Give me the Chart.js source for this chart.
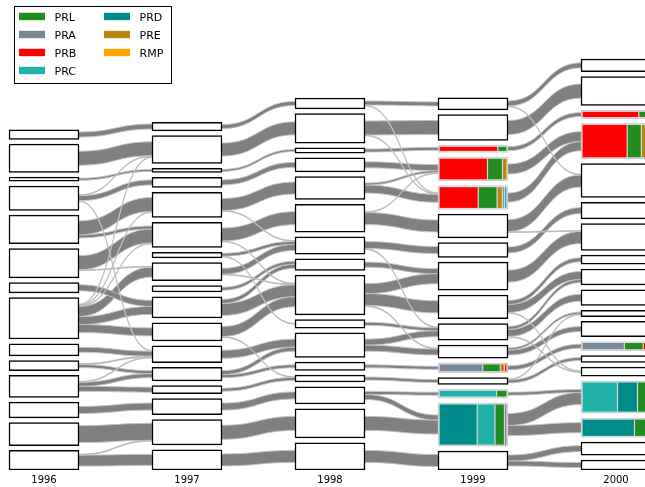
<!DOCTYPE html>
<html>
<head>
<meta charset="utf-8">
<script src="https://cdn.jsdelivr.net/npm/chart.js@4/dist/chart.umd.min.js"></script>
<style>
  html, body { margin: 0; padding: 0; background: #fff; }
</style>
</head>
<body>
<canvas id="myChart" width="645" height="487"></canvas>
<script>
// ---- data ----
const years = [1996, 1997, 1998, 1999, 2000];
const groups = ['PRL', 'PRA', 'PRB', 'PRC', 'PRD', 'PRE', 'RMP'];
const groupColors = ['#228b22', '#778899', '#ff0000', '#20b2aa', '#008b8b', '#b8860b', '#ffa500'];

// cluster sizes per year, listed top to bottom
const sizes1996 = [9.5, 28.3, 4, 24.3, 28.6, 29.3, 10.3, 41.3, 12, 10, 22, 15.6, 23, 19.6];
const sizes1997 = [8.6, 27.8, 4.2, 10.2, 25.2, 25.2, 5.6, 18, 6.5, 21.2, 18.2, 16.8, 13.5, 8, 16.2, 25.5, 20.2];
const sizes1998 = [10.8, 29.5, 5.2, 13.9, 22.9, 27.8, 17.2, 11.5, 39.6, 8.5, 24.5, 8.2, 6.8, 17.2, 29.2, 27.2];
const sizes1999 = [12, 25.7, 7.2, 23.7, 23.7, 23.7, 14.7, 28, 23.7, 16.7, 13.1, 9.8, 7, 8.8, 43.3, 19];
const sizes2000 = [12.7, 29, 8.3, 35.5, 33.8, 16.6, 26.7, 9, 16, 15.7, 6.3, 15.3, 9.3, 6.7, 9, 32.3, 19.4, 13, 10];

// group make-up of the coloured clusters (cluster index -> share per group)
const mix1999 = {
  2: { PRB: 60, PRL: 9 },
  3: { PRB: 48, PRL: 15, PRE: 4 },
  4: { PRB: 37, PRL: 18, PRE: 5, PRA: 2, PRC: 2 },
  11: { PRA: 42, PRL: 17, PRE: 4, PRB: 2 },
  13: { PRC: 57, PRL: 10 },
  14: { PRD: 36, PRC: 17, PRL: 9, PRA: 2 }
};
const mix2000 = {
  2: { PRB: 58, PRL: 11 },
  3: { PRB: 44, PRL: 14, PRE: 5, PRA: 3 },
  12: { PRA: 40, PRL: 18, PRB: 6 },
  15: { PRC: 35, PRD: 20, PRL: 12 },
  16: { PRD: 52, PRL: 12, PRA: 3 }
};

// flows between consecutive years: [from cluster, to cluster, size]
const flows96to97 = [
  [0, 0, 5], [1, 1, 14], [2, 2, 2], [3, 1, 0.8], [3, 3, 5], [3, 11, 0.8],
  [4, 4, 14], [4, 5, 3], [5, 5, 14], [5, 7, 0.8], [6, 9, 6],
  [7, 1, 0.8], [7, 4, 0.8], [7, 5, 0.8], [7, 7, 10], [7, 9, 8], [7, 10, 8],
  [8, 11, 5], [9, 11, 1], [9, 12, 3], [10, 11, 0.8], [10, 12, 4], [10, 13, 5],
  [11, 14, 7], [12, 15, 17], [13, 15, 0.8], [13, 16, 11]
];
const flows97to98 = [
  [0, 0, 4], [1, 1, 13], [2, 2, 2], [3, 3, 5], [4, 4, 12], [4, 6, 0.8],
  [5, 5, 13], [5, 8, 0.8], [6, 6, 3], [6, 9, 0.8], [7, 6, 6], [7, 8, 0.8],
  [8, 7, 3], [9, 7, 4], [9, 8, 12], [10, 8, 10], [10, 12, 0.8],
  [11, 10, 8], [12, 10, 4], [12, 11, 3], [13, 12, 3], [14, 13, 7],
  [15, 14, 14], [16, 15, 12]
];
const flows98to99 = [
  [0, 0, 4], [0, 4, 0.8], [1, 1, 14], [1, 4, 0.8], [2, 2, 3], [3, 3, 6],
  [4, 3, 2], [4, 4, 8], [5, 3, 0.8], [5, 5, 12], [6, 6, 7], [6, 9, 0.8],
  [7, 7, 5], [8, 7, 10], [8, 8, 12], [8, 10, 0.8], [9, 9, 3],
  [10, 9, 6], [10, 10, 6], [11, 11, 3], [12, 12, 3], [13, 13, 3], [13, 14, 5],
  [14, 14, 14], [15, 15, 12]
];
const flows99to00 = [
  [0, 0, 5], [0, 4, 0.8], [1, 1, 14], [2, 2, 4], [3, 3, 10], [4, 3, 9],
  [5, 4, 12], [5, 6, 0.8], [6, 5, 6], [7, 6, 12], [8, 7, 4], [8, 8, 8], [8, 14, 0.8],
  [9, 8, 3], [9, 9, 7], [9, 14, 0.8], [10, 10, 2], [10, 11, 5], [11, 12, 4],
  [12, 10, 0.8], [12, 13, 3], [13, 15, 3], [14, 15, 12], [14, 16, 10],
  [15, 17, 6], [15, 18, 5]
];

const sizes = [sizes1996, sizes1997, sizes1998, sizes1999, sizes2000];
const mixes = [{}, {}, {}, mix1999, mix2000];
const flows = [flows96to97, flows97to98, flows98to99, flows99to00];

// ---- layout ----
const NODE_W = 70;   // px
const GAP = 4.8;     // y units between clusters
const X_MIN = 1996 - 44 / 143;
const X_MAX = X_MIN + 645 / 143;

function stackColumn(sz) {
  const out = new Array(sz.length);
  let y = 0;
  for (let i = sz.length - 1; i >= 0; i--) {
    out[i] = { bottom: y, top: y + sz[i] };
    y += sz[i] + GAP;
  }
  return out;
}
const layout = sizes.map(stackColumn);

const nodePoints = [];
const nodeInfo = [];
layout.forEach((col, c) => col.forEach((n, i) => {
  nodePoints.push({ x: years[c], y: [n.bottom, n.top] });
  nodeInfo.push({ c, i, mix: mixes[c][i] || null });
}));

function curve(ctx, sx, a, tx, b) {
  const mx = (sx + tx) / 2;
  ctx.bezierCurveTo(mx, a, mx, b, tx, b);
}

const alluvial = {
  id: 'alluvial',
  beforeDatasetsDraw(chart) {
    const { ctx, chartArea, scales: { x, y } } = chart;
    const half = NODE_W / 2;
    const bands = [];
    flows.forEach((list, t) => {
      const src = layout[t], tgt = layout[t + 1];
      const outTot = src.map(() => 0), inTot = tgt.map(() => 0);
      list.forEach(([s, d, w]) => { outTot[s] += w; inTot[d] += w; });
      const outCur = src.map((n, k) => (n.top + n.bottom) / 2 + outTot[k] / 2);
      const inCur = tgt.map((n, k) => (n.top + n.bottom) / 2 + inTot[k] / 2);
      const pos = new Map();
      list.slice().sort((a, b) => a[0] - b[0] || a[1] - b[1]).forEach(f => {
        const top = outCur[f[0]]; outCur[f[0]] -= f[2];
        pos.set(f, { s0: top, s1: top - f[2] });
      });
      list.slice().sort((a, b) => a[1] - b[1] || a[0] - b[0]).forEach(f => {
        const top = inCur[f[1]]; inCur[f[1]] -= f[2];
        Object.assign(pos.get(f), { t0: top, t1: top - f[2] });
      });
      const sx = x.getPixelForValue(years[t]) + half;
      const tx = x.getPixelForValue(years[t + 1]) - half;
      list.forEach(f => bands.push(Object.assign({ sx, tx, w: f[2] }, pos.get(f))));
    });
    bands.sort((a, b) => b.w - a.w);

    ctx.save();
    ctx.beginPath();
    ctx.rect(chartArea.left, chartArea.top, chartArea.width, chartArea.height);
    ctx.clip();
    bands.forEach(b => {
      const a0 = y.getPixelForValue(b.s0), a1 = y.getPixelForValue(b.s1);
      const c0 = y.getPixelForValue(b.t0), c1 = y.getPixelForValue(b.t1);
      ctx.beginPath();
      ctx.moveTo(b.sx, a0);
      curve(ctx, b.sx, a0, b.tx, c0);
      ctx.lineTo(b.tx, c1);
      curve(ctx, b.tx, c1, b.sx, a1);
      ctx.closePath();
      ctx.fillStyle = '#808080';
      ctx.fill();
      ctx.beginPath();
      ctx.moveTo(b.sx, a0);
      curve(ctx, b.sx, a0, b.tx, c0);
      ctx.moveTo(b.tx, c1);
      curve(ctx, b.tx, c1, b.sx, a1);
      ctx.strokeStyle = 'rgba(195,195,195,0.9)';
      ctx.lineWidth = 1;
      ctx.stroke();
    });
    ctx.restore();
  },
  afterDatasetsDraw(chart) {
    const { ctx, chartArea } = chart;
    const bars = chart.getDatasetMeta(0).data;
    ctx.save();
    ctx.beginPath();
    ctx.rect(chartArea.left, chartArea.top, chartArea.width, chartArea.height);
    ctx.clip();
    nodeInfo.forEach((info, k) => {
      if (!info.mix) return;
      const bar = bars[k];
      const left = bar.x - bar.width / 2 + 1.5, right = bar.x + bar.width / 2 - 1.5;
      const top = Math.min(bar.y, bar.base) + 1.5, bottom = Math.max(bar.y, bar.base) - 1.5;
      const entries = Object.entries(info.mix);
      const total = entries.reduce((s, e) => s + e[1], 0);
      let cx = left;
      entries.forEach(([g, v], j) => {
        const w = v / total * (right - left);
        ctx.fillStyle = groupColors[groups.indexOf(g)];
        ctx.fillRect(cx, top, w, bottom - top);
        if (j > 0) {
          ctx.fillStyle = '#d4d4d4';
          ctx.fillRect(cx - 0.6, top, 1.2, bottom - top);
        }
        cx += w;
      });
    });
    ctx.restore();
  },
  afterDraw(chart) {
    const ctx = chart.ctx;
    ctx.save();
    ctx.fillStyle = '#fff';
    ctx.fillRect(14.5, 6.5, 157, 77);
    ctx.strokeStyle = '#000';
    ctx.lineWidth = 1;
    ctx.strokeRect(14.5, 6.5, 157, 77);
    ctx.font = '11px "DejaVu Sans"';
    ctx.textBaseline = 'middle';
    groups.forEach((g, k) => {
      const col = k < 4 ? 0 : 1, row = k < 4 ? k : k - 4;
      const hx = col ? 104 : 19;
      ctx.fillStyle = groupColors[k];
      ctx.fillRect(hx, 12.8 + row * 18, 26, 7.4);
      ctx.fillStyle = '#000';
      ctx.fillText(g, hx + 35.5, 18.5 + row * 18);
    });
    ctx.restore();
  }
};

new Chart(document.getElementById('myChart'), {
  type: 'bar',
  data: {
    datasets: [{
      data: nodePoints,
      backgroundColor: '#ffffff',
      borderColor: c => (nodeInfo[c.dataIndex] && nodeInfo[c.dataIndex].mix) ? '#d0d0d0' : '#000000',
      borderWidth: 1.5,
      borderSkipped: false,
      barThickness: NODE_W
    }]
  },
  options: {
    responsive: false,
    animation: false,
    devicePixelRatio: 1,
    layout: { padding: { left: 0, right: 0, top: 0, bottom: -3 } },
    plugins: { legend: { display: false }, tooltip: { enabled: false } },
    scales: {
      x: {
        type: 'linear',
        offset: false,
        min: X_MIN,
        max: X_MAX,
        afterBuildTicks: s => { s.ticks = years.map(v => ({ value: v })); },
        grid: { display: false, drawTicks: false, offset: false },
        border: { display: false },
        ticks: {
          color: '#000',
          padding: 4,
          font: { family: 'DejaVu Sans', size: 10 },
          callback: v => String(v)
        }
      },
      y: { display: false, min: 0, max: 470 }
    }
  },
  plugins: [alluvial]
});
</script>
</body>
</html>
